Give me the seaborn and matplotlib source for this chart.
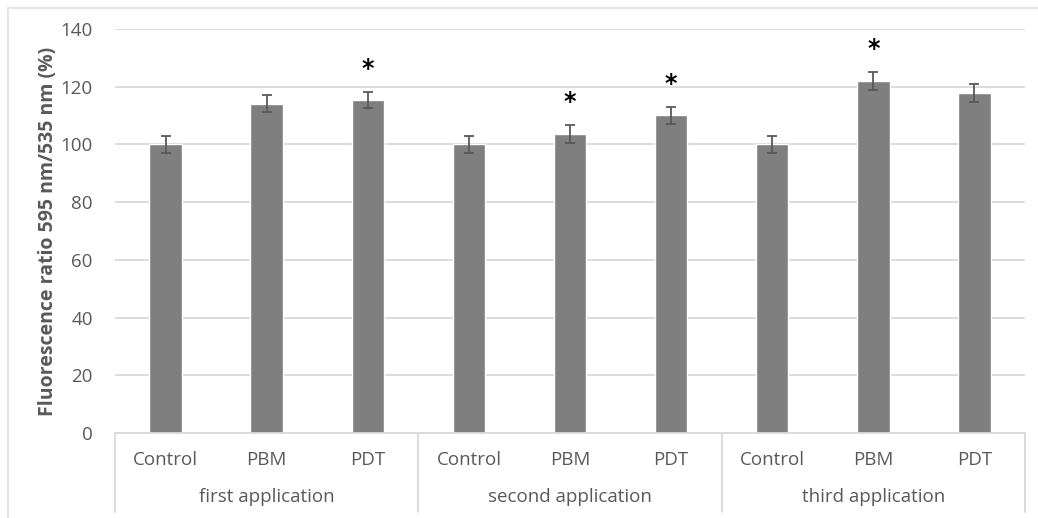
import pandas as pd
import seaborn as sns
import matplotlib.pyplot as plt
from matplotlib.lines import Line2D

# data
groups = ["first application", "second application", "third application"]
treatments = ["Control", "PBM", "PDT"]
values = [100, 114.1, 115.3, 100, 103.7, 110.1, 100, 122.0, 117.8]
errors = [3.0, 3.0, 2.8, 3.0, 3.1, 3.0, 3.0, 3.0, 3.0]
significant = [False, False, True, False, True, True, False, True, False]

df = pd.DataFrame({
    "group": [g for g in groups for _ in treatments],
    "treatment": treatments * len(groups),
    "value": values,
    "err": errors,
})
df["key"] = df["group"] + " / " + df["treatment"]

sns.set_style("white")
plt.rcParams["font.family"] = ["Open Sans", "DejaVu Sans"]

fig = plt.figure(figsize=(10.38, 5.18), dpi=100)
ax = fig.add_axes([115 / 1038, 85 / 518, 910 / 1038, 404 / 518])

text_grey = "#595959"
line_grey = "#d9d9d9"

sns.barplot(data=df, x="key", y="value", color="#7f7f7f", width=0.32,
            saturation=1, ax=ax, errorbar=None)

# error bars
pos = list(range(len(df)))
ax.errorbar(pos, df["value"], yerr=df["err"], fmt="none", ecolor="#595959",
            elinewidth=1.3, capsize=3.6, capthick=1.3, zorder=3)

# significance stars
for x, (v, e, s) in enumerate(zip(df["value"], df["err"], significant)):
    if s:
        ax.text(x, v + e + 8.0, "*", ha="center", va="center", fontsize=17,
                fontweight="bold", color="black", family="DejaVu Sans")

ax.set_ylim(0, 140)
ax.set_xlim(-0.5, len(df) - 0.5)
ax.set_yticks(range(0, 141, 20))
ax.yaxis.grid(True, color=line_grey, linewidth=1.3)
ax.set_axisbelow(True)
for side in ["top", "right", "left"]:
    ax.spines[side].set_visible(False)
ax.spines["bottom"].set_color(line_grey)
ax.spines["bottom"].set_linewidth(1.3)

ax.set_xticks(pos)
ax.set_xticklabels(df["treatment"])
ax.tick_params(axis="x", length=0, pad=13, labelsize=13.5, labelcolor=text_grey)
ax.tick_params(axis="y", length=0, pad=16, labelsize=13.5, labelcolor=text_grey)
ax.set_xlabel("")
ax.set_ylabel("Fluorescence ratio 595 nm/535 nm (%)", fontsize=14,
              fontweight="bold", color=text_grey, labelpad=2)

# group labels and separators below the axis
xt = ax.get_xaxis_transform()
for i, g in enumerate(groups):
    ax.text(i * 3 + 1, -0.158, g, transform=xt, ha="center", va="center",
            fontsize=13.5, color=text_grey)
for b in range(len(groups) + 1):
    ax.add_line(Line2D([b * 3 - 0.5, b * 3 - 0.5], [0, -0.196], transform=xt,
                       color=line_grey, linewidth=1.3, clip_on=False))

# outer chart frame
fig.add_artist(Line2D([8 / 1038, 1.0], [1 - 8 / 518, 1 - 8 / 518],
                      color="#e6e6e6", linewidth=1.5))
fig.add_artist(Line2D([8 / 1038, 8 / 1038], [0, 1 - 8 / 518],
                      color="#e6e6e6", linewidth=1.5))

fig.savefig("out.png", dpi=100)
